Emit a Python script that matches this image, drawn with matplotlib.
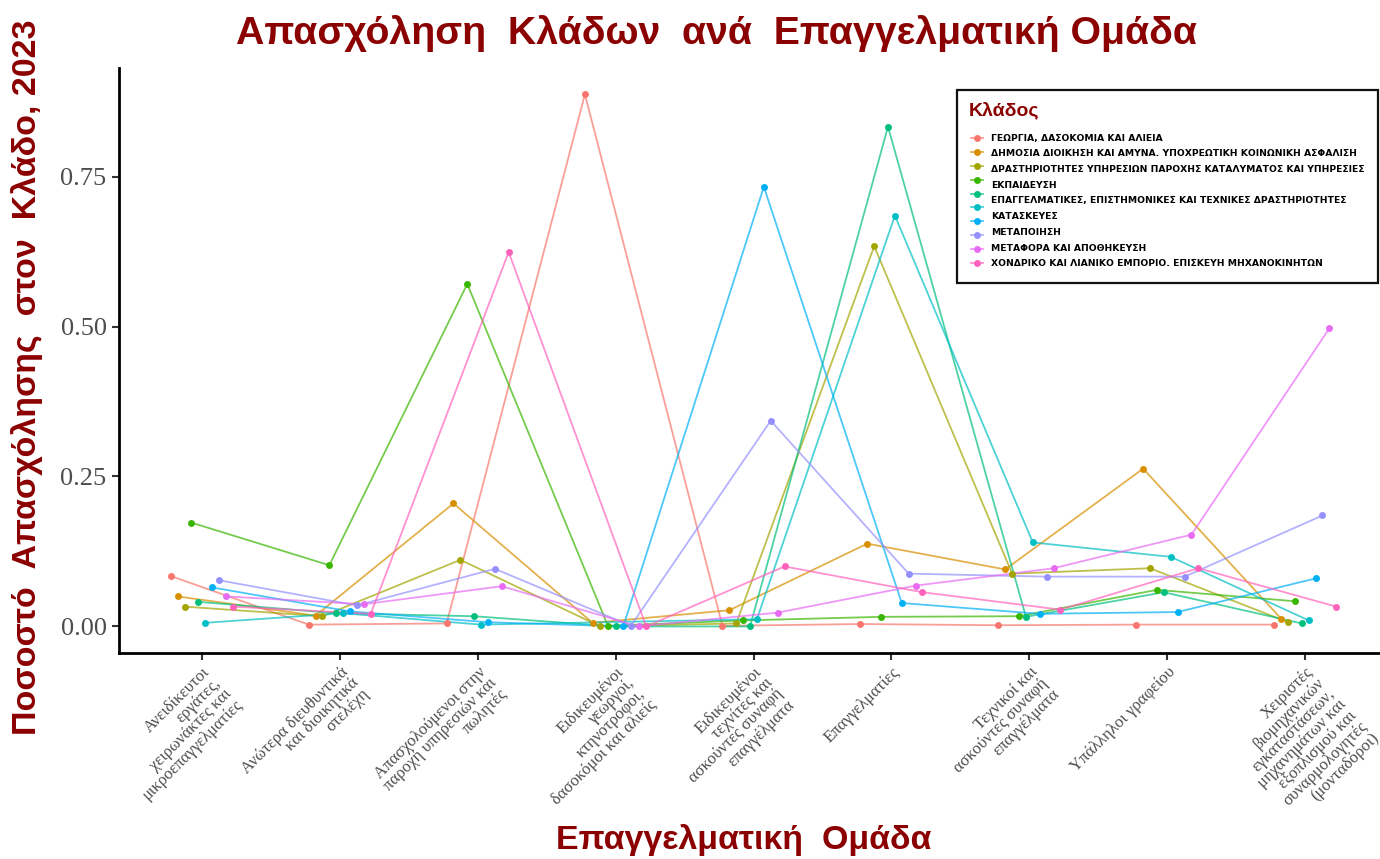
import numpy as np
import matplotlib
matplotlib.use("Agg")
import matplotlib.pyplot as plt
from matplotlib.lines import Line2D
from matplotlib.patches import Rectangle

# Occupational groups (x axis)
occupations = [
    "Ανειδίκευτοι\nεργάτες,\nχειρωνάκτες και\nμικροεπαγγελματίες",
    "Ανώτερα διευθυντικά\nκαι διοικητικά\nστελέχη",
    "Απασχολούμενοι στην\nπαροχή υπηρεσιών και\nπωλητές",
    "Ειδικευμένοι\nγεωργοί,\nκτηνοτρόφοι,\nδασοκόμοι και αλιείς",
    "Ειδικευμένοι\nτεχνίτες και\nασκούντες συναφή\nεπαγγέλματα",
    "Επαγγελματίες",
    "Τεχνικοί και\nασκούντες συναφή\nεπαγγέλματα",
    "Υπάλληλοι γραφείου",
    "Χειριστές\nβιομηχανικών\nεγκαταστάσεων,\nμηχανημάτων και\nεξοπλισμού και\nσυναρμολογητές\n(μονταδόροι)",
]

# Legend entries
legend_labels = [
    "ΓΕΩΡΓΙΑ, ΔΑΣΟΚΟΜΙΑ ΚΑΙ ΑΛΙΕΙΑ",
    "ΔΗΜΟΣΙΑ ΔΙΟΙΚΗΣΗ ΚΑΙ ΑΜΥΝΑ. ΥΠΟΧΡΕΩΤΙΚΗ ΚΟΙΝΩΝΙΚΗ ΑΣΦΑΛΙΣΗ",
    "ΔΡΑΣΤΗΡΙΟΤΗΤΕΣ ΥΠΗΡΕΣΙΩΝ ΠΑΡΟΧΗΣ ΚΑΤΑΛΥΜΑΤΟΣ ΚΑΙ ΥΠΗΡΕΣΙΕΣ",
    "ΕΚΠΑΙΔΕΥΣΗ",
    "ΕΠΑΓΓΕΛΜΑΤΙΚΕΣ, ΕΠΙΣΤΗΜΟΝΙΚΕΣ ΚΑΙ ΤΕΧΝΙΚΕΣ ΔΡΑΣΤΗΡΙΟΤΗΤΕΣ",
    "ΚΑΤΑΣΚΕΥΕΣ",
    "ΜΕΤΑΠΟΙΗΣΗ",
    "ΜΕΤΑΦΟΡΑ ΚΑΙ ΑΠΟΘΗΚΕΥΣΗ",
    "ΧΟΝΔΡΙΚΟ ΚΑΙ ΛΙΑΝΙΚΟ ΕΜΠΟΡΙΟ. ΕΠΙΣΚΕΥΗ ΜΗΧΑΝΟΚΙΝΗΤΩΝ",
]

# Share of employment per sector series, one value per occupational group
geo = [0.084, 0.003, 0.005, 0.887, 0.001, 0.004, 0.002, 0.003, 0.003]
dimosia = [0.050, 0.018, 0.205, 0.006, 0.027, 0.138, 0.095, 0.263, 0.013]
katalym = [0.033, 0.017, 0.111, 0.000, 0.005, 0.634, 0.088, 0.097, 0.007]
ekpaid = [0.173, 0.102, 0.571, 0.001, 0.010, 0.016, 0.017, 0.061, 0.042]
epagg = [0.041, 0.022, 0.017, 0.000, 0.000, 0.833, 0.016, 0.057, 0.005]
epagg_b = [0.006, 0.022, 0.003, np.nan, 0.012, 0.685, 0.140, 0.116, 0.010]
kataskeves = [0.065, 0.025, 0.007, 0.000, 0.733, 0.039, 0.021, 0.024, 0.080]
metapoiisi = [0.077, 0.035, 0.096, 0.001, 0.343, 0.088, 0.083, 0.083, 0.185]
metafora = [0.050, 0.037, 0.067, 0.000, 0.023, 0.068, 0.097, 0.153, 0.497]
emporio = [0.033, 0.021, 0.624, 0.000, 0.100, 0.057, 0.028, 0.097, 0.033]

series = [geo, dimosia, katalym, ekpaid, epagg, epagg_b,
          kataskeves, metapoiisi, metafora, emporio]
colors = ["#F8766D", "#D89000", "#A3A500", "#39B600", "#00BF7D",
          "#00BFC4", "#00B0F6", "#9590FF", "#E76BF3", "#FF62BC"]

DARK_RED = "#8B0000"
W, H = 1380, 859
DODGE = 0.5

fig = plt.figure(figsize=(W / 100, H / 100), dpi=100)
fig.patch.set_facecolor("white")


def fx(x):
    return x / W


def fy(y):
    return 1 - y / H


ax = fig.add_axes([fx(119), fy(653), (1388 - 119) / W, (653 - 68) / H])

vals = np.array(series, dtype=float)
n_series, n_groups = vals.shape

# dodge positions: points present in each group are spread over the dodge width
xpos = np.full_like(vals, np.nan)
for j in range(n_groups):
    present = np.where(~np.isnan(vals[:, j]))[0]
    n = len(present)
    for r, i in enumerate(present):
        xpos[i, j] = j + (r - (n - 1) / 2) * DODGE / n

for i in range(n_series):
    m = ~np.isnan(vals[i])
    ax.plot(xpos[i, m], vals[i, m], color=colors[i], lw=1.3, alpha=0.7,
            solid_capstyle="round", zorder=2)
    ax.plot(xpos[i, m], vals[i, m], "o", color=colors[i], ms=5,
            mec="none", zorder=3)

ax.set_xlim(-0.6, n_groups - 1 + 0.6)
ax.set_ylim(-0.0443, 0.931)
ax.set_yticks([0.0, 0.25, 0.5, 0.75])
ax.set_yticklabels(["0.00", "0.25", "0.50", "0.75"])
ax.set_xticks(range(n_groups))
ax.set_xticklabels(occupations, rotation=45, ha="right", va="top",
                   rotation_mode="anchor", multialignment="right")

for lab in ax.get_yticklabels():
    lab.set_fontfamily("Liberation Serif")
    lab.set_fontsize(19)
    lab.set_color("#4D4D4D")
for lab in ax.get_xticklabels():
    lab.set_fontfamily("Liberation Serif")
    lab.set_fontsize(12)
    lab.set_color("#4D4D4D")
    lab.set_linespacing(0.95)

ax.tick_params(axis="both", length=5, width=1.5, color="#333333")
ax.tick_params(axis="y", pad=4)
ax.tick_params(axis="x", pad=3)
for side in ["top", "right"]:
    ax.spines[side].set_visible(False)
for side in ["left", "bottom"]:
    ax.spines[side].set_linewidth(2)
    ax.spines[side].set_color("black")

# titles
fig.text(fx(717), fy(33), "Απασχόληση  Κλάδων  ανά  Επαγγελματική Ομάδα",
         ha="center", va="center", fontsize=28.3, fontweight="bold",
         color=DARK_RED, family="Liberation Sans")
fig.text(fx(744), fy(840), "Επαγγελματική  Ομάδα", ha="center", va="center",
         fontsize=24.5, fontweight="bold", color=DARK_RED, family="Liberation Sans")
fig.text(fx(27), fy(377), "Ποσοστό  Απασχόλησης  στον  Κλάδο, 2023",
         ha="center", va="center", rotation=90, fontsize=24.5,
         fontweight="bold", color=DARK_RED, family="Liberation Sans")

# legend panel
box = Rectangle((fx(957), fy(283)), fx(1378) - fx(957), fy(90) - fy(283),
                transform=fig.transFigure, facecolor="white",
                edgecolor="#111111", lw=1.6, zorder=5)
fig.add_artist(box)
fig.text(fx(969), fy(110), "Κλάδος", ha="left", va="center", fontsize=14,
         fontweight="bold", color=DARK_RED, family="Liberation Sans", zorder=6)

key_y = np.linspace(138, 263, n_series)
for c, yk in zip(colors, key_y):
    fig.add_artist(Line2D([fx(971), fx(983)], [fy(yk), fy(yk)], color=c,
                          lw=1.3, alpha=0.7, transform=fig.transFigure, zorder=6))
    fig.add_artist(Line2D([fx(977)], [fy(yk)], marker="o", ms=5, color=c,
                          mec="none", transform=fig.transFigure, zorder=7))

lab_y = np.linspace(138, 264, len(legend_labels))
for t, yl in zip(legend_labels, lab_y):
    fig.text(fx(991), fy(yl), t, ha="left", va="center", fontsize=6.7,
             fontweight="bold", color="black", family="DejaVu Sans", zorder=6)

fig.savefig("out.png", dpi=100, facecolor="white")
